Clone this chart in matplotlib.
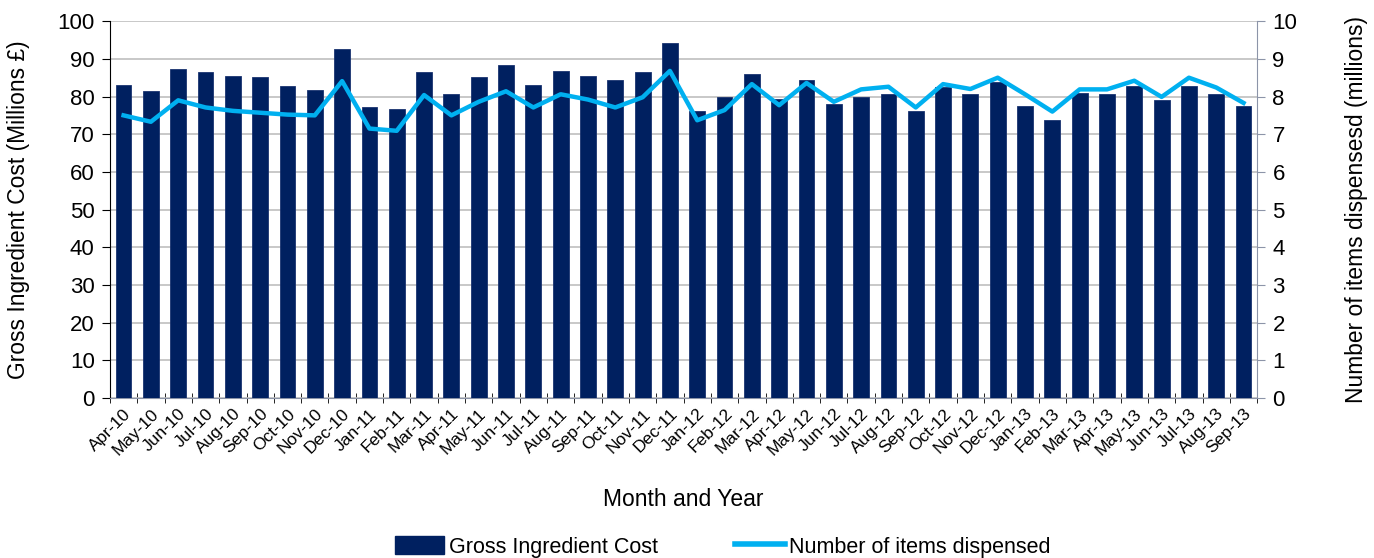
import numpy as np
import matplotlib
matplotlib.use("Agg")
import matplotlib.pyplot as plt
from matplotlib.ticker import FixedLocator, MultipleLocator
from matplotlib.patches import Patch
from matplotlib.lines import Line2D

plt.rcParams['font.family'] = ['Liberation Sans', 'DejaVu Sans']

months = ['Apr-10', 'May-10', 'Jun-10', 'Jul-10', 'Aug-10', 'Sep-10', 'Oct-10', 'Nov-10', 'Dec-10',
          'Jan-11', 'Feb-11', 'Mar-11', 'Apr-11', 'May-11', 'Jun-11', 'Jul-11', 'Aug-11', 'Sep-11',
          'Oct-11', 'Nov-11', 'Dec-11', 'Jan-12', 'Feb-12', 'Mar-12', 'Apr-12', 'May-12', 'Jun-12',
          'Jul-12', 'Aug-12', 'Sep-12', 'Oct-12', 'Nov-12', 'Dec-12', 'Jan-13', 'Feb-13', 'Mar-13',
          'Apr-13', 'May-13', 'Jun-13', 'Jul-13', 'Aug-13', 'Sep-13']

# gross ingredient cost, millions GBP
cost = [83.1, 81.4, 87.3, 86.5, 85.5, 85.1, 82.7, 81.8, 92.5,
        77.1, 76.7, 86.5, 80.8, 85.1, 88.3, 83.1, 86.8, 85.5,
        84.5, 86.5, 94.3, 76.2, 79.9, 86.0, 79.4, 84.5, 78.0,
        79.9, 80.8, 76.2, 82.6, 80.8, 83.9, 77.5, 73.9, 81.0,
        80.8, 82.8, 79.0, 82.8, 80.8, 77.5]

# items dispensed, millions
items = [7.50, 7.33, 7.90, 7.71, 7.62, 7.57, 7.52, 7.50, 8.41,
         7.15, 7.09, 8.04, 7.50, 7.86, 8.14, 7.71, 8.06, 7.92,
         7.71, 7.98, 8.68, 7.37, 7.64, 8.33, 7.77, 8.36, 7.86,
         8.19, 8.26, 7.71, 8.33, 8.20, 8.50, 8.06, 7.60, 8.19,
         8.19, 8.42, 7.99, 8.50, 8.24, 7.83]

bar_col = '#002060'
line_col = '#00B0F0'

x = np.arange(len(months))

fig = plt.figure(figsize=(13.74, 5.58), dpi=100)
ax = fig.add_axes([0.080, 0.287, 0.835, 0.675])
ax2 = ax.twinx()

ax.bar(x, cost, width=0.58, color=bar_col, edgecolor='#1a3370', linewidth=0.6, zorder=3)
ax2.plot(x, items, color=line_col, linewidth=3.2, zorder=4)

ax.set_xlim(-0.5, len(months) - 0.5)
ax.set_ylim(0, 100)
ax2.set_ylim(0, 10)
ax.yaxis.set_major_locator(MultipleLocator(10))
ax2.yaxis.set_major_locator(MultipleLocator(1))

ax.grid(axis='y', color='#BFBFBF', linewidth=1.2, zorder=0)
ax.set_axisbelow(True)

ax.set_xticks(x)
ax.set_xticklabels(months, rotation=45, ha='right', rotation_mode='anchor', fontsize=12.5)
ax.tick_params(axis='x', which='major', length=0, pad=6)
ax.xaxis.set_minor_locator(FixedLocator(np.arange(-0.5, len(months), 1)))
ax.tick_params(axis='x', which='minor', length=7, direction='inout', color='black')

ax.tick_params(axis='y', labelsize=16, length=6, direction='out', pad=5)
ax2.tick_params(axis='y', labelsize=16, length=6, direction='out', color='#8C94A8', pad=5)

ax.spines['top'].set_visible(False)
ax2.spines['top'].set_visible(False)
ax2.spines['left'].set_visible(False)
ax2.spines['bottom'].set_visible(False)
ax2.spines['right'].set_color('#8C94A8')
ax.spines['right'].set_visible(False)
ax.spines['left'].set_color('black')
ax.spines['bottom'].set_color('#8C94A8')

ax.set_ylabel('Gross Ingredient Cost (Millions £)', fontsize=16.4, labelpad=20)
ax2.set_ylabel('Number of items dispensesd (millions)', fontsize=16.4, labelpad=34)
ax.set_xlabel('Month and Year', fontsize=16.5, labelpad=22)

handles = [Patch(facecolor=bar_col, edgecolor=bar_col),
           Line2D([0], [0], color=line_col, linewidth=4)]
fig.legend(handles, ['Gross Ingredient Cost', 'Number of items dispensed'],
           loc='center', bbox_to_anchor=(0.526, 0.02), ncol=2, frameon=False,
           fontsize=15.5, handlelength=2.3, handletextpad=0.2, columnspacing=3.6,
           handleheight=0.9)

plt.savefig('out.png', dpi=100)
